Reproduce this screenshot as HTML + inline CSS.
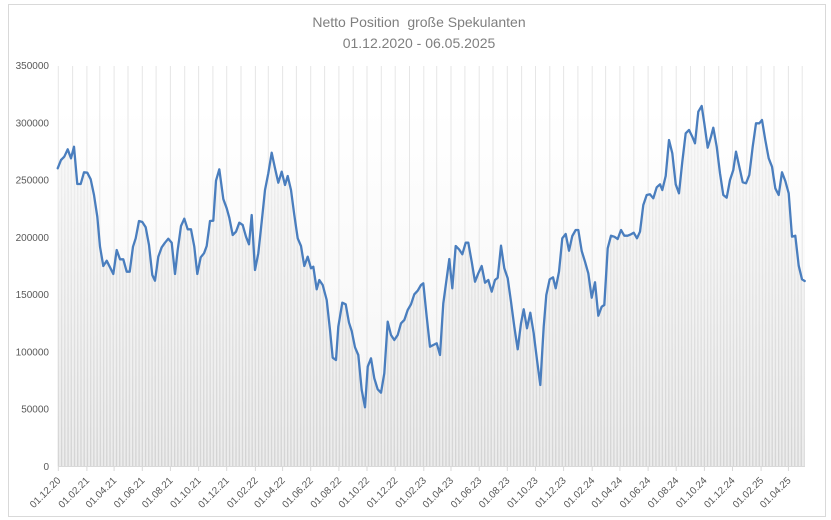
<!DOCTYPE html>
<html><head><meta charset="utf-8"><style>
html,body{margin:0;padding:0;background:#fff;}
svg{display:block;}
text{font-family:"Liberation Sans",sans-serif;}
</style></head><body>
<svg width="831" height="520" viewBox="0 0 831 520" xmlns="http://www.w3.org/2000/svg">
<defs>
<linearGradient id="bg" x1="0" y1="66" x2="0" y2="466" gradientUnits="userSpaceOnUse">
<stop offset="0" stop-color="#ffffff"/><stop offset="0.1" stop-color="#ffffff"/><stop offset="1" stop-color="#f4f4f4"/>
</linearGradient>
<pattern id="stripes" x="57.7" y="0" width="3.23" height="10" patternUnits="userSpaceOnUse">
<rect x="0" y="0" width="3.23" height="10" fill="#ececec"/>
<rect x="0" y="0" width="1.3" height="10" fill="#d3d3d3"/>
</pattern>
<linearGradient id="fade" x1="0" y1="100" x2="0" y2="466" gradientUnits="userSpaceOnUse">
<stop offset="0" stop-color="#ffffff" stop-opacity="0.75"/><stop offset="1" stop-color="#ffffff" stop-opacity="0"/>
</linearGradient>
<clipPath id="area"><polygon points="57.7,168.3 61,160 64.3,156.7 67.7,149.3 71,158.3 74,146.7 77.3,184 80.7,184 84,172.3 87.3,172.7 90.7,179.3 94,195 97.3,216.7 100,246.7 103.3,266 106.7,260.7 110,267.3 113.3,274 116.7,250 120,259.3 123.3,259.3 126.7,271.7 129.7,271.7 133,246.7 135.7,238.3 139,221 142.3,222 145.7,227.3 149,245 152.3,275 155,280.7 158.3,256.7 161.7,247.3 165,242.7 168.3,238.7 171.7,242.7 175,274 177.7,250 181,226 184.3,218.7 187.7,229.3 191,229.3 194.3,246.7 197.3,274 200.7,257.3 204,253.3 206.7,246 210,221 213.3,220.7 216,180.7 219.3,169.3 223.3,199 226.7,208.3 229.3,217.7 232.7,235 236,231.7 239.3,222.7 242.7,225 246,236.7 249,244.3 251.7,215 255,270 258.3,253.3 261.7,221.7 265,190 268.3,173.3 271.7,152.7 275,168.3 278.3,182.7 281.7,171.7 285,185 287.7,176 291,190 294.3,215 297.7,238.3 301,246 304.3,266 307.7,256.7 311,268.3 313.3,266.7 316.7,289.3 319.3,280 322.7,285 326.7,300 330,330 332.7,357.7 336,360 338.3,326.7 342.3,302.7 345.7,304.3 349,322.7 351.7,331 355,347.3 358.3,355 361.7,390 365,407.3 367.7,366.7 371,358.3 374.3,378.3 377.7,389.3 381,392.7 384.3,373.3 387.7,321.7 391,335 394.3,340 397.7,335 401,323.3 404.3,320 407.7,310 411,304.3 414.3,294.3 417.7,290.7 421,285 423.3,283.3 426.7,316.7 430,346.7 433.3,345 436.7,343.3 440,355 443.3,303.3 446.7,278.3 449.3,259 452.3,288.3 455.7,246 459,249.3 462.3,254.3 465.7,242.7 468.3,242.7 471.7,261.7 475,281.7 478.3,273.3 481.7,266 485,282.7 488.3,280 491.7,291.7 495,280 497.7,277.7 501,245.7 504.3,268.3 507.7,278.3 511,301.7 514.3,326.7 517.7,349.3 521,323.3 523.7,309.3 527,328.3 530.3,312.7 533.7,333.3 537,360 540.3,385 543.7,326.7 546.3,295 549.7,279.3 553,277.3 555.7,288.3 559,271.7 562.3,238.3 565.7,234 569,250.7 572.3,236 575.7,230 578.3,230 581.7,251 585,261.7 588.3,273.3 591.7,297.7 595,282.3 598.3,315.7 601.7,306.7 604.3,305 607.7,248.3 611,235.7 614.3,236.7 617.7,239 621,230 624.3,235.7 627.7,235.7 631,234.3 633.7,232.7 637,238.3 640,231.7 643.3,205 646.7,195 650,194.3 653.3,198.3 656.7,187.3 660,184.3 662.3,190 665.7,176 669,140 672.3,153.3 675.7,184.3 679,193.3 682.3,161.7 685.7,133.3 689,130 692.3,136.7 695,143.3 698.3,111.7 701.7,106 704.3,123.3 707.7,147.7 711,136.7 713.3,127.7 716.7,146.7 720,173.3 723.3,195 726.7,197.7 730,180 733.3,170 736,151.7 739.3,166.7 742.7,182.3 746,183.3 749.3,175 752.7,146.7 756,123.3 759.3,123.3 762,120 765.3,140 768.7,158.3 772,166.7 775.3,188.3 778.7,195 782,172.3 785.3,181 788.7,193.3 792,236.7 795.3,235.7 798.7,265.7 802,279.3 804.7,281 804.7,466.5 57.7,466.5"/></clipPath>
</defs>
<rect x="0" y="0" width="831" height="520" fill="#fff"/>
<rect x="8.5" y="4.5" width="817" height="512" fill="#fff" stroke="#d9d9d9" stroke-width="1"/>
<rect x="58" y="66" width="747" height="400.5" fill="url(#bg)"/>
<g stroke="#e6e6e6" stroke-width="1">
<line x1="58.3" y1="66" x2="58.3" y2="466"/><line x1="72.6" y1="66" x2="72.6" y2="466"/><line x1="86.9" y1="66" x2="86.9" y2="466"/><line x1="99.8" y1="66" x2="99.8" y2="466"/><line x1="114.1" y1="66" x2="114.1" y2="466"/><line x1="128" y1="66" x2="128" y2="466"/><line x1="142.3" y1="66" x2="142.3" y2="466"/><line x1="156.1" y1="66" x2="156.1" y2="466"/><line x1="170.4" y1="66" x2="170.4" y2="466"/><line x1="184.7" y1="66" x2="184.7" y2="466"/><line x1="198.6" y1="66" x2="198.6" y2="466"/><line x1="212.9" y1="66" x2="212.9" y2="466"/><line x1="226.7" y1="66" x2="226.7" y2="466"/><line x1="241" y1="66" x2="241" y2="466"/><line x1="255.4" y1="66" x2="255.4" y2="466"/><line x1="268.3" y1="66" x2="268.3" y2="466"/><line x1="282.6" y1="66" x2="282.6" y2="466"/><line x1="296.4" y1="66" x2="296.4" y2="466"/><line x1="310.7" y1="66" x2="310.7" y2="466"/><line x1="324.6" y1="66" x2="324.6" y2="466"/><line x1="338.9" y1="66" x2="338.9" y2="466"/><line x1="353.2" y1="66" x2="353.2" y2="466"/><line x1="367" y1="66" x2="367" y2="466"/><line x1="381.3" y1="66" x2="381.3" y2="466"/><line x1="395.2" y1="66" x2="395.2" y2="466"/><line x1="409.5" y1="66" x2="409.5" y2="466"/><line x1="423.8" y1="66" x2="423.8" y2="466"/><line x1="436.7" y1="66" x2="436.7" y2="466"/><line x1="451" y1="66" x2="451" y2="466"/><line x1="464.9" y1="66" x2="464.9" y2="466"/><line x1="479.2" y1="66" x2="479.2" y2="466"/><line x1="493" y1="66" x2="493" y2="466"/><line x1="507.3" y1="66" x2="507.3" y2="466"/><line x1="521.6" y1="66" x2="521.6" y2="466"/><line x1="535.5" y1="66" x2="535.5" y2="466"/><line x1="549.8" y1="66" x2="549.8" y2="466"/><line x1="563.6" y1="66" x2="563.6" y2="466"/><line x1="577.9" y1="66" x2="577.9" y2="466"/><line x1="592.2" y1="66" x2="592.2" y2="466"/><line x1="605.6" y1="66" x2="605.6" y2="466"/><line x1="619.9" y1="66" x2="619.9" y2="466"/><line x1="633.8" y1="66" x2="633.8" y2="466"/><line x1="648.1" y1="66" x2="648.1" y2="466"/><line x1="661.9" y1="66" x2="661.9" y2="466"/><line x1="676.2" y1="66" x2="676.2" y2="466"/><line x1="690.5" y1="66" x2="690.5" y2="466"/><line x1="704.4" y1="66" x2="704.4" y2="466"/><line x1="718.7" y1="66" x2="718.7" y2="466"/><line x1="732.5" y1="66" x2="732.5" y2="466"/><line x1="746.8" y1="66" x2="746.8" y2="466"/><line x1="761.1" y1="66" x2="761.1" y2="466"/><line x1="774" y1="66" x2="774" y2="466"/><line x1="788.4" y1="66" x2="788.4" y2="466"/><line x1="802.2" y1="66" x2="802.2" y2="466"/>
</g>
<g clip-path="url(#area)">
<rect x="57" y="60" width="750" height="407" fill="url(#stripes)"/>
<rect x="57" y="60" width="750" height="407" fill="url(#fade)"/>
</g>
<line x1="58" y1="466.5" x2="805" y2="466.5" stroke="#d9d9d9" stroke-width="1"/>
<g stroke="#d9d9d9" stroke-width="1">
<line x1="58.3" y1="466.5" x2="58.3" y2="471"/><line x1="86.9" y1="466.5" x2="86.9" y2="471"/><line x1="114.1" y1="466.5" x2="114.1" y2="471"/><line x1="142.3" y1="466.5" x2="142.3" y2="471"/><line x1="170.4" y1="466.5" x2="170.4" y2="471"/><line x1="198.6" y1="466.5" x2="198.6" y2="471"/><line x1="226.7" y1="466.5" x2="226.7" y2="471"/><line x1="255.4" y1="466.5" x2="255.4" y2="471"/><line x1="282.6" y1="466.5" x2="282.6" y2="471"/><line x1="310.7" y1="466.5" x2="310.7" y2="471"/><line x1="338.9" y1="466.5" x2="338.9" y2="471"/><line x1="367" y1="466.5" x2="367" y2="471"/><line x1="395.2" y1="466.5" x2="395.2" y2="471"/><line x1="423.8" y1="466.5" x2="423.8" y2="471"/><line x1="451" y1="466.5" x2="451" y2="471"/><line x1="479.2" y1="466.5" x2="479.2" y2="471"/><line x1="507.3" y1="466.5" x2="507.3" y2="471"/><line x1="535.5" y1="466.5" x2="535.5" y2="471"/><line x1="563.6" y1="466.5" x2="563.6" y2="471"/><line x1="592.2" y1="466.5" x2="592.2" y2="471"/><line x1="619.9" y1="466.5" x2="619.9" y2="471"/><line x1="648.1" y1="466.5" x2="648.1" y2="471"/><line x1="676.2" y1="466.5" x2="676.2" y2="471"/><line x1="704.4" y1="466.5" x2="704.4" y2="471"/><line x1="732.5" y1="466.5" x2="732.5" y2="471"/><line x1="761.1" y1="466.5" x2="761.1" y2="471"/><line x1="788.4" y1="466.5" x2="788.4" y2="471"/>
</g>
<polyline fill="none" stroke="#4a7ebe" stroke-width="2.3" stroke-linejoin="round" stroke-linecap="round" points="57.7,168.3 61,160 64.3,156.7 67.7,149.3 71,158.3 74,146.7 77.3,184 80.7,184 84,172.3 87.3,172.7 90.7,179.3 94,195 97.3,216.7 100,246.7 103.3,266 106.7,260.7 110,267.3 113.3,274 116.7,250 120,259.3 123.3,259.3 126.7,271.7 129.7,271.7 133,246.7 135.7,238.3 139,221 142.3,222 145.7,227.3 149,245 152.3,275 155,280.7 158.3,256.7 161.7,247.3 165,242.7 168.3,238.7 171.7,242.7 175,274 177.7,250 181,226 184.3,218.7 187.7,229.3 191,229.3 194.3,246.7 197.3,274 200.7,257.3 204,253.3 206.7,246 210,221 213.3,220.7 216,180.7 219.3,169.3 223.3,199 226.7,208.3 229.3,217.7 232.7,235 236,231.7 239.3,222.7 242.7,225 246,236.7 249,244.3 251.7,215 255,270 258.3,253.3 261.7,221.7 265,190 268.3,173.3 271.7,152.7 275,168.3 278.3,182.7 281.7,171.7 285,185 287.7,176 291,190 294.3,215 297.7,238.3 301,246 304.3,266 307.7,256.7 311,268.3 313.3,266.7 316.7,289.3 319.3,280 322.7,285 326.7,300 330,330 332.7,357.7 336,360 338.3,326.7 342.3,302.7 345.7,304.3 349,322.7 351.7,331 355,347.3 358.3,355 361.7,390 365,407.3 367.7,366.7 371,358.3 374.3,378.3 377.7,389.3 381,392.7 384.3,373.3 387.7,321.7 391,335 394.3,340 397.7,335 401,323.3 404.3,320 407.7,310 411,304.3 414.3,294.3 417.7,290.7 421,285 423.3,283.3 426.7,316.7 430,346.7 433.3,345 436.7,343.3 440,355 443.3,303.3 446.7,278.3 449.3,259 452.3,288.3 455.7,246 459,249.3 462.3,254.3 465.7,242.7 468.3,242.7 471.7,261.7 475,281.7 478.3,273.3 481.7,266 485,282.7 488.3,280 491.7,291.7 495,280 497.7,277.7 501,245.7 504.3,268.3 507.7,278.3 511,301.7 514.3,326.7 517.7,349.3 521,323.3 523.7,309.3 527,328.3 530.3,312.7 533.7,333.3 537,360 540.3,385 543.7,326.7 546.3,295 549.7,279.3 553,277.3 555.7,288.3 559,271.7 562.3,238.3 565.7,234 569,250.7 572.3,236 575.7,230 578.3,230 581.7,251 585,261.7 588.3,273.3 591.7,297.7 595,282.3 598.3,315.7 601.7,306.7 604.3,305 607.7,248.3 611,235.7 614.3,236.7 617.7,239 621,230 624.3,235.7 627.7,235.7 631,234.3 633.7,232.7 637,238.3 640,231.7 643.3,205 646.7,195 650,194.3 653.3,198.3 656.7,187.3 660,184.3 662.3,190 665.7,176 669,140 672.3,153.3 675.7,184.3 679,193.3 682.3,161.7 685.7,133.3 689,130 692.3,136.7 695,143.3 698.3,111.7 701.7,106 704.3,123.3 707.7,147.7 711,136.7 713.3,127.7 716.7,146.7 720,173.3 723.3,195 726.7,197.7 730,180 733.3,170 736,151.7 739.3,166.7 742.7,182.3 746,183.3 749.3,175 752.7,146.7 756,123.3 759.3,123.3 762,120 765.3,140 768.7,158.3 772,166.7 775.3,188.3 778.7,195 782,172.3 785.3,181 788.7,193.3 792,236.7 795.3,235.7 798.7,265.7 802,279.3 804.7,281"/>
<g font-size="10" fill="#595959" text-anchor="end">
<text x="49" y="470">0</text>
<text x="49" y="412.7">50000</text>
<text x="49" y="355.4">100000</text>
<text x="49" y="298.1">150000</text>
<text x="49" y="240.8">200000</text>
<text x="49" y="183.6">250000</text>
<text x="49" y="126.3">300000</text>
<text x="49" y="69">350000</text>
</g>
<g font-size="10" fill="#595959" text-anchor="end">
<text transform="translate(61.3,481) rotate(-45)">01.12.20</text>
<text transform="translate(89.9,481) rotate(-45)">01.02.21</text>
<text transform="translate(117.1,481) rotate(-45)">01.04.21</text>
<text transform="translate(145.3,481) rotate(-45)">01.06.21</text>
<text transform="translate(173.4,481) rotate(-45)">01.08.21</text>
<text transform="translate(201.6,481) rotate(-45)">01.10.21</text>
<text transform="translate(229.7,481) rotate(-45)">01.12.21</text>
<text transform="translate(258.4,481) rotate(-45)">01.02.22</text>
<text transform="translate(285.6,481) rotate(-45)">01.04.22</text>
<text transform="translate(313.7,481) rotate(-45)">01.06.22</text>
<text transform="translate(341.9,481) rotate(-45)">01.08.22</text>
<text transform="translate(370,481) rotate(-45)">01.10.22</text>
<text transform="translate(398.2,481) rotate(-45)">01.12.22</text>
<text transform="translate(426.8,481) rotate(-45)">01.02.23</text>
<text transform="translate(454,481) rotate(-45)">01.04.23</text>
<text transform="translate(482.2,481) rotate(-45)">01.06.23</text>
<text transform="translate(510.3,481) rotate(-45)">01.08.23</text>
<text transform="translate(538.5,481) rotate(-45)">01.10.23</text>
<text transform="translate(566.6,481) rotate(-45)">01.12.23</text>
<text transform="translate(595.2,481) rotate(-45)">01.02.24</text>
<text transform="translate(622.9,481) rotate(-45)">01.04.24</text>
<text transform="translate(651.1,481) rotate(-45)">01.06.24</text>
<text transform="translate(679.2,481) rotate(-45)">01.08.24</text>
<text transform="translate(707.4,481) rotate(-45)">01.10.24</text>
<text transform="translate(735.5,481) rotate(-45)">01.12.24</text>
<text transform="translate(764.1,481) rotate(-45)">01.02.25</text>
<text transform="translate(791.4,481) rotate(-45)">01.04.25</text>
</g>
<g font-size="14" fill="#7f7f7f" text-anchor="middle">
<text x="419" y="27" xml:space="preserve">Netto Position  große Spekulanten</text>
<text x="419" y="48">01.12.2020 - 06.05.2025</text>
</g>
</svg>
</body></html>
